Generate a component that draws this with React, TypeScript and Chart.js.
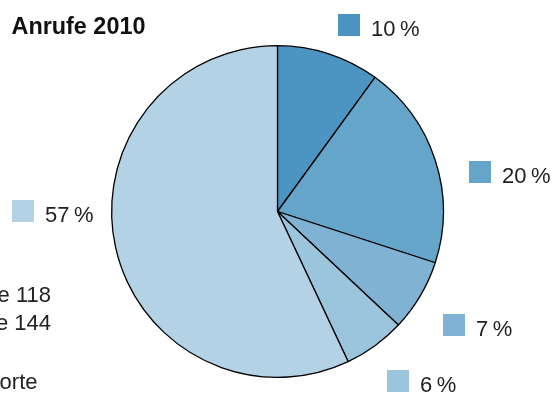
import React, { useEffect, useRef } from "react";
import { Chart, registerables } from "chart.js";

Chart.register(...registerables);

const title = "Anrufe 2010";
const categories = ["Polizei 117", "Feuerwehr 118", "Sanität 144", "Rega 1414", "Übrige"];
const shares = [10, 20, 7, 6, 57];
const sideNotes = ["Notrufe 118", "Notrufe 144", "", "Standorte"];

const sliceColors = ["#4c95c2", "#65a5ca", "#80b3d3", "#9bc4dd", "#b4d2e6"];
// label box (square) top-left positions
const labelBoxes: [number, number][] = [
  [338, 14],
  [469, 161],
  [443, 314],
  [387, 370],
  [12, 200],
];
const noteEnds: [number, number][] = [
  [51, 302],
  [51, 330],
  [51, 358],
  [37.5, 389],
];

const FONT = '"Liberation Sans", Arial, Helvetica, sans-serif';

const annotate = {
  id: "annotate",
  afterDraw(chart: any) {
    const ctx = chart.ctx as CanvasRenderingContext2D;
    ctx.save();
    // title
    ctx.fillStyle = "#111";
    ctx.font = `bold 23.4px ${FONT}`;
    ctx.textAlign = "left";
    ctx.textBaseline = "alphabetic";
    ctx.fillText(title, 11.5, 34);

    // labels
    const meta = chart.getDatasetMeta(0);
    meta.data.forEach((_arc: any, i: number) => {
      const [x, y] = labelBoxes[i];
      ctx.fillStyle = sliceColors[i];
      ctx.fillRect(x, y, 22, 22);
      ctx.fillStyle = "#222";
      ctx.font = `22px ${FONT}`;
      ctx.textAlign = "left";
      ctx.fillText(`${shares[i]}\u2009%`, x + 33, y + 22);
    });

    // clipped side notes
    ctx.font = `22px ${FONT}`;
    ctx.textAlign = "right";
    ctx.fillStyle = "#222";
    sideNotes.forEach((t, i) => {
      if (!t) return;
      const [x, y] = noteEnds[i];
      ctx.fillText(t, x, y);
    });
    ctx.restore();
  },
};

export default function App() {
  const ref = useRef<HTMLCanvasElement>(null);
  useEffect(() => {
    if (!ref.current) return;
    const chart = new Chart(ref.current, {
      type: "pie",
      data: {
        labels: categories,
        datasets: [
          {
            data: shares,
            backgroundColor: sliceColors,
            borderColor: "#000",
            borderWidth: 1.3,
          },
        ],
      },
      options: {
        responsive: false,
        animation: false,
        layout: { padding: { left: 111, right: 110, top: 45, bottom: 41 } },
        plugins: {
          legend: { display: false },
          tooltip: { enabled: false },
          title: { display: false },
        },
      },
      plugins: [annotate],
    });
    return () => chart.destroy();
  }, []);
  return (
    <div style={{ position: "fixed", left: 0, top: 0, width: 554, height: 419, background: "#fff" }}>
      <canvas ref={ref} width={554} height={419} style={{ display: "block" }} />
    </div>
  );
}
